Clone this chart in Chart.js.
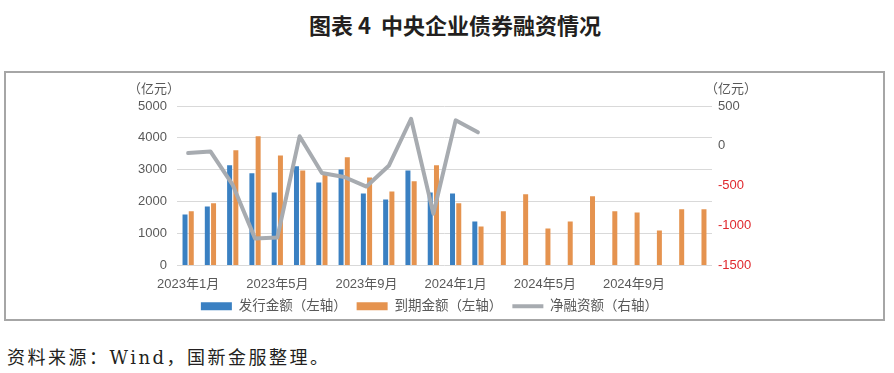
<!DOCTYPE html>
<html>
<head>
<meta charset="utf-8">
<script src="https://cdn.jsdelivr.net/npm/chart.js@4/dist/chart.umd.min.js"></script>
<style>
  body { margin: 0; background: #fff; width: 894px; height: 373px; position: relative; overflow: hidden; }
  .title { position: absolute; left: 0; width: 910px; top: 8px; text-align: center; font-family: "Noto Sans CJK SC", sans-serif; font-weight: 700; font-size: 22px; color: #231f20; }
  .box { position: absolute; left: 4px; top: 71px; width: 877px; height: 246px; border: 2px solid #a6a6a6; }
  .wrap { position: absolute; left: 6px; top: 73px; width: 875px; height: 250px; }
  .src { position: absolute; left: 7px; top: 343px; font-family: "DejaVu Serif", "Liberation Serif", "Noto Sans CJK SC", serif; font-size: 18px; color: #231f20; letter-spacing: 2.5px; }
</style>
</head>
<body>
<div class="title">图表 4&nbsp;&nbsp;中央企业债券融资情况</div>
<div class="box"></div>
<div class="wrap"><canvas id="c"></canvas></div>
<div class="src">资料来源：Wind，国新金服整理。</div>
<script>
// months 2023.1 - 2024.12
const months = [
  "2023年1月","2023年2月","2023年3月","2023年4月","2023年5月","2023年6月",
  "2023年7月","2023年8月","2023年9月","2023年10月","2023年11月","2023年12月",
  "2024年1月","2024年2月","2024年3月","2024年4月","2024年5月","2024年6月",
  "2024年7月","2024年8月","2024年9月","2024年10月","2024年11月","2024年12月"
];
// 发行金额 (left axis)
const issue = [1600, 1850, 3140, 2890, 2290, 3110, 2600, 3010, 2260, 2070, 2980, 2290,
  2260, 1380, null, null, null, null, null, null, null, null, null, null];
// 到期金额 (left axis)
const maturity = [1700, 1950, 3610, 4050, 3450, 2980, 2920, 3390, 2760, 2320, 2640, 3140,
  1950, 1220, 1700, 2230, 1160, 1380, 2170, 1700, 1660, 1100, 1760, 1760];
// 净融资额 (right axis)
const net = [-90, -70, -490, -1160, -1150, 120, -340, -390, -510, -250, 340, -850,
  320, 170, null, null, null, null, null, null, null, null, null, null];

const leftTicks = [0, 1000, 2000, 3000, 4000, 5000];
const rightTicks = [-1500, -1000, -500, 0, 500];

const axisFont = { family: "'Liberation Sans', 'Noto Sans CJK SC', sans-serif", size: 13 };
const textColor = '#595959';

const unitLabels = {
  id: 'unitLabels',
  afterLayout(chart) {
    // let the month labels run below the squeezed x axis box
    chart.scales.x.bottom = chart.height;
  },
  afterDraw(chart) {
    const ctx = chart.ctx;
    ctx.save();
    ctx.font = "13px 'Liberation Sans', 'Noto Sans CJK SC', sans-serif";
    ctx.fillStyle = textColor;
    ctx.textAlign = 'center';
    ctx.textBaseline = 'middle';
    ctx.fillText('（亿元）', chart.scales.y.right - 23, 16);
    ctx.fillText('（亿元）', chart.scales.y1.left + 19, 16);
    ctx.restore();
  }
};

new Chart(document.getElementById('c'), {
  data: {
    labels: months,
    datasets: [
      {
        type: 'line', label: '净融资额（右轴）', data: net, yAxisID: 'y1', order: 0,
        borderColor: '#a7abb0', backgroundColor: '#a7abb0', borderWidth: 4,
        pointRadius: 0, tension: 0, spanGaps: false, borderJoinStyle: 'round', borderCapStyle: 'round',
        pointStyle: 'line'
      },
      {
        type: 'bar', label: '发行金额（左轴）', data: issue, yAxisID: 'y', order: 1,
        backgroundColor: '#3a80c2', categoryPercentage: 0.56, barPercentage: 0.8, pointStyle: 'rect'
      },
      {
        type: 'bar', label: '到期金额（左轴）', data: maturity, yAxisID: 'y', order: 1,
        backgroundColor: '#e5934f', categoryPercentage: 0.56, barPercentage: 0.8, pointStyle: 'rect'
      }
    ]
  },
  options: {
    responsive: true,
    maintainAspectRatio: false,
    animation: false,
    layout: { padding: { top: 33, left: 0, right: 28, bottom: 0 } },
    plugins: {
      tooltip: { enabled: false },
      legend: {
        position: 'bottom',
        labels: {
          usePointStyle: true, pointStyleWidth: 31, boxHeight: 8, padding: 10,
          color: textColor, font: { family: axisFont.family, size: 13.5 },
          sort: (a, b) => [1, 2, 0].indexOf(a.datasetIndex) - [1, 2, 0].indexOf(b.datasetIndex)
        }
      }
    },
    scales: {
      x: {
        grid: { display: false, drawTicks: false },
        border: { display: false },
        ticks: {
          autoSkip: false, maxRotation: 0, color: textColor, font: axisFont, padding: 11,
          callback: function (v, i) { return i % 4 === 0 ? months[i] : ''; }
        },
        afterFit: s => { s.height = 24; }
      },
      y: {
        position: 'left', min: 0, max: 5000,
        afterBuildTicks: s => { s.ticks = leftTicks.map(v => ({ value: v })); },
        grid: { color: '#d9d9d9', drawTicks: false, lineWidth: 1 },
        border: { display: false },
        ticks: { color: textColor, font: axisFont, padding: 10, callback: v => String(v) },
        afterFit: s => { s.width = 171; }
      },
      y1: {
        position: 'right', min: -1500, max: 500,
        afterBuildTicks: s => { s.ticks = rightTicks.map(v => ({ value: v })); },
        grid: { display: false, drawTicks: false },
        border: { display: false },
        ticks: {
          font: axisFont, padding: 6, callback: v => String(v),
          color: c => (c.tick && c.tick.value < 0 ? '#e0282e' : textColor)
        },
        afterFit: s => { s.width = 141; }
      }
    }
  },
  plugins: [unitLabels]
});
</script>
</body>
</html>
